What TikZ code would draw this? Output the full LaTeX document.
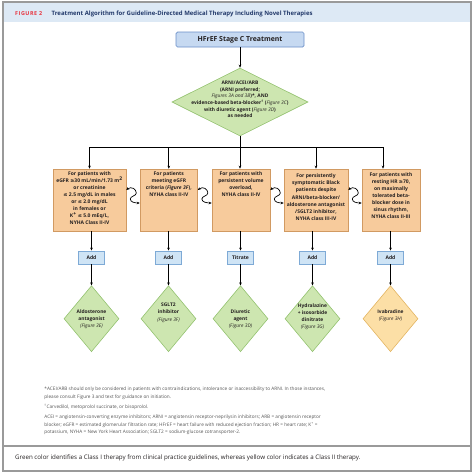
\documentclass[tikz,border=0pt]{standalone}
\usepackage{fontspec}
\setmainfont{Open Sans}
\newfontfamily\symf{DejaVu Sans}
\newfontfamily\figfont[LetterSpace=10]{Open Sans}
\usetikzlibrary{shapes.geometric,arrows.meta,calc}
\definecolor{frameC}{HTML}{9A9A9A}
\definecolor{headF}{HTML}{DDE9F5}
\definecolor{navyC}{HTML}{233A6B}
\definecolor{redC}{HTML}{E8313C}
\definecolor{topF}{HTML}{C6D9F1}
\definecolor{topD}{HTML}{6A8FC7}
\definecolor{grnF}{HTML}{CDE6B0}
\definecolor{grnD}{HTML}{94C270}
\definecolor{tanF}{HTML}{F7CB9C}
\definecolor{tanD}{HTML}{D19A62}
\definecolor{addF}{HTML}{CFE4F5}
\definecolor{addD}{HTML}{7EAAD6}
\definecolor{yelF}{HTML}{FCDFA6}
\definecolor{yelD}{HTML}{E3B562}
\definecolor{txtC}{HTML}{231F20}
\definecolor{fnC}{HTML}{555555}
\newcommand{\scurvedraw}[2]{%
  \draw[dbl] ($(#1.east)+(0,-10)$) .. controls +(5,-4) and +(0,-4) .. ($(#1.east)+(10,-7)$)
    .. controls +(0,3) and +(0,-3) .. ($(#1.east)+(4,-1)$)
    .. controls +(0,3) and +(-5,0) .. ($(#2.west)+(0,3)$);}
\begin{document}
\begin{tikzpicture}[x=1pt,y=-1pt,
  every node/.style={inner sep=0pt, text=txtC},
  arr/.style={-{Stealth[length=3pt,width=2.6pt]}, line width=0.7pt, black},
  dbl/.style={{Stealth[length=3pt,width=2.6pt]}-{Stealth[length=3pt,width=2.6pt]}, line width=0.7pt, black},
  topbox/.style={draw=topD, fill=topF, line width=0.7pt, rounded corners=1.5pt, minimum width=128pt, minimum height=15pt, font=\fontsize{6.9}{7}\selectfont\bfseries},
  gdia/.style={shape=diamond, draw=grnD, fill=grnF, line width=0.6pt},
  ydia/.style={shape=diamond, draw=yelD, fill=yelF, line width=0.6pt},
  tbox/.style={draw=tanD, fill=tanF, line width=0.6pt, minimum height=62pt},
  tboxtxt/.style={anchor=north, align=center, font=\fontsize{5}{7.1}\selectfont\bfseries},
  addbox/.style={draw=addD, fill=addF, line width=0.6pt, minimum width=25.5pt, minimum height=13.3pt, font=\fontsize{5}{6}\selectfont\bfseries},
  diatxt/.style={align=center, font=\fontsize{4.9}{7.2}\selectfont\bfseries},
  fn/.style={anchor=north west, align=left, text=fnC, font=\fontsize{4.7}{7.3}\selectfont}
]
\useasboundingbox (0,0) rectangle (474,475);
% frame and header
\fill[headF] (3,2) rectangle (471,22);
\draw[frameC, line width=1.1pt] (3,2) rectangle (471,471);
\draw[frameC, line width=1.1pt] (3,446) -- (471,446);
\node[anchor=base west, text=redC, font=\figfont\fontsize{5.4}{6}\selectfont\bfseries] (figlab) at (15,15.5) {FIGURE 2};
\node[anchor=base west, text=navyC, font=\fontsize{6}{6}\selectfont\bfseries] (title) at (51.5,15.5) {Treatment Algorithm for Guideline-Directed Medical Therapy Including Novel Therapies};
% top
\node[topbox] (top) at (240,39.5) {HFrEF Stage C Treatment};
\node[gdia, minimum width=136pt, minimum height=68pt] (d0) at (240,102) {};
\node[diatxt, font=\fontsize{4.9}{6.6}\selectfont\bfseries] (d0t) at (240,99.5) {ARNI/ACEI/ARB\\(ARNI preferred;\\\textit{\mdseries Figures 3A and 3B})*, AND\\evidence-based beta-blocker\textsuperscript{†} (\textit{\mdseries Figure 3C})\\with diuretic agent (\textit{\mdseries Figure 3D})\\as needed};
\draw[arr] (top) -- (d0.north);
% condition boxes
\node[tbox, minimum width=73pt] (b1) at (89.5,200) {};
\node[tbox, minimum width=57.5pt] (b2) at (168.8,200) {};
\node[tbox, minimum width=58pt] (b3) at (241,200) {};
\node[tbox, minimum width=64pt] (b4) at (316,200) {};
\node[tbox, minimum width=58pt] (b5) at (391,200) {};
\node[tboxtxt] (b1t) at ($(b1.north)+(0,2.5)$) {For patients with\\eGFR {\symf ≥}30 mL/min/1.73 m\textsuperscript{2}\\or creatinine\\{\symf ≤} 2.5 mg/dL in males\\or {\symf ≤} 2.0 mg/dL\\in females or\\K\textsuperscript{+} {\symf ≤} 5.0 mEq/L,\\NYHA Class II-IV};
\node[tboxtxt] (b2t) at ($(b2.north)+(0,2.5)$) {For patients\\meeting eGFR\\criteria (\textit{Figure 3F}),\\NYHA class II-IV};
\node[tboxtxt] (b3t) at ($(b3.north)+(0,2.5)$) {For patients with\\persistent volume\\overload,\\NYHA class II-IV};
\node[tboxtxt] (b4t) at ($(b4.north)+(0,5)$) {For persistently\\symptomatic Black\\patients despite\\ARNI/beta-blocker/\\aldosterone antagonist\\/SGLT2 inhibitor,\\NYHA class III-IV};
\node[tboxtxt] (b5t) at ($(b5.north)+(0,3.5)$) {For patients with\\resting HR {\symf ≥}70,\\on maximally\\tolerated beta-\\blocker dose in\\sinus rhythm,\\NYHA class II-III};
% distribution bar
\coordinate (bar) at (240,147);
\coordinate (t5) at (383,147);
\draw[line width=0.7pt] (d0.south) -- (bar);
\draw[line width=0.7pt] (b1.north |- bar) -- (t5);
\draw[arr] (b1.north |- bar) -- (b1.north);
\draw[arr] (b2.north |- bar) -- (b2.north);
\draw[arr] (bar) -- (bar |- b3.north);
\draw[arr] (b4.north |- bar) -- (b4.north);
\draw[arr] (t5) -- (t5 |- b5.north);
% s-curves
\scurvedraw{b1}{b2}
\scurvedraw{b2}{b3}
\scurvedraw{b3}{b4}
\scurvedraw{b4}{b5}
% add boxes
\node[addbox] (a1) at (91.5,257.5) {Add};
\node[addbox] (a2) at (168.5,257.5) {Add};
\node[addbox] (a3) at (240.5,257.5) {Titrate};
\node[addbox] (a4) at (312.5,257.5) {Add};
\node[addbox] (a5) at (390.5,257.5) {Add};
\foreach \i in {1,...,5} {\draw[arr] (a\i.north |- b\i.south) -- (a\i.north);}
% result diamonds
\node[gdia, minimum width=55pt, minimum height=66pt] (d1) at (91.5,318.7) {};
\node[gdia, minimum width=55pt, minimum height=66pt] (d2) at (168.5,318.7) {};
\node[gdia, minimum width=55pt, minimum height=66pt] (d3) at (240.5,318.7) {};
\node[gdia, minimum width=55pt, minimum height=66pt] (d4) at (312.5,318.7) {};
\node[ydia, minimum width=55pt, minimum height=66pt] (d5) at (390.5,318.7) {};
\foreach \i in {1,...,5} {\draw[arr] (a\i.south) -- (d\i.north);}
\node[diatxt] (d1t) at (91.5,319) {Aldosterone\\antagonist\\\textit{\mdseries (Figure 3E)}};
\node[diatxt] (d2t) at (168.5,312.7) {SGLT2\\inhibitor\\\textit{\mdseries (Figure 3F)}};
\node[diatxt] (d3t) at (240.5,319) {Diuretic\\agent\\\textit{\mdseries (Figure 3D)}};
\node[diatxt, font=\fontsize{4.9}{7}\selectfont\bfseries] (d4t) at (312.5,317) {Hydralazine\\+ isosorbide\\dinitrate\\\textit{\mdseries (Figure 3G)}};
\node[diatxt] (d5t) at (390.5,315.5) {Ivabradine\\\textit{\mdseries (Figure 3H)}};
% footnotes
\node[fn] (fn1) at (44.3,387) {*ACEI/ARB should only be considered in patients with contraindications, intolerance or inaccessibility to ARNI. In those instances,\\please consult Figure 3 and text for guidance on initiation.};
\node[fn] (fn2) at (44.3,404.2) {\textsuperscript{†}Carvedilol, metoprolol succinate, or bisoprolol.};
\node[fn] (fn3) at (44.3,415.2) {ACEI = angiotensin-converting enzyme inhibitors; ARNI = angiotensin receptor-neprilysin inhibitors; ARB = angiotensin receptor\\blocker; eGFR = estimated glomerular filtration rate; HFrEF = heart failure with reduced ejection fraction; HR = heart rate; K\textsuperscript{+} =\\potassium, NYHA = New York Heart Association; SGLT2 = sodium-glucose cotransporter-2.};
\node[anchor=west, font=\fontsize{6.2}{7}\selectfont] (legend) at (15,458) {Green color identifies a Class I therapy from clinical practice guidelines, whereas yellow color indicates a Class II therapy.};
\end{tikzpicture}
\end{document}
